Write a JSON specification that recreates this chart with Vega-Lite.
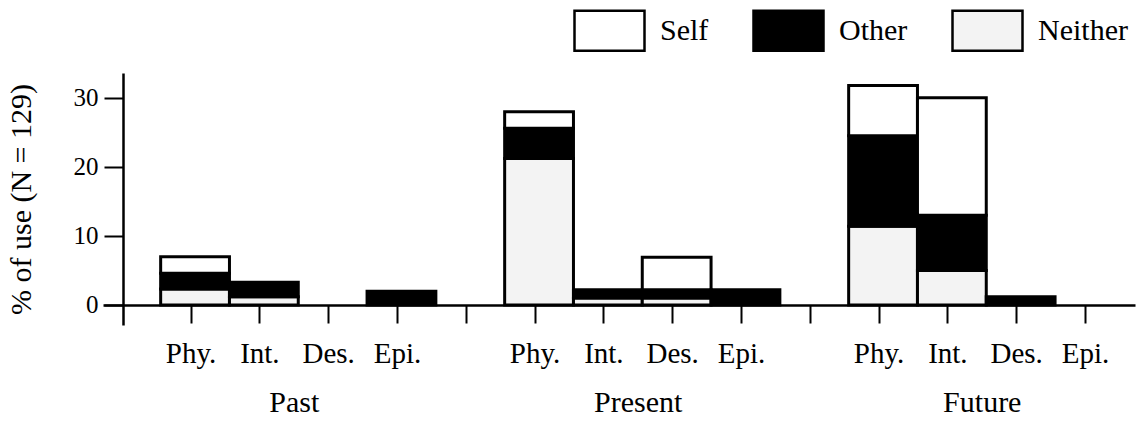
{
  "$schema": "https://vega.github.io/schema/vega-lite/v6.json",
  "autosize": {"type": "none"},
  "padding": {"left": 103, "top": 73, "right": 6, "bottom": 96},
  "width": 1032,
  "height": 252,
  "background": "white",
  "config": {
    "view": {"stroke": null},
    "font": "Liberation Serif",
    "axis": {"domainColor": "black", "tickColor": "black", "labelColor": "black", "titleColor": "black", "labelFont": "Liberation Serif", "titleFont": "Liberation Serif", "grid": false}
  },
  "layer": [
    {
      "data": {"values": [
        {"period": "Past", "cat": "Phy.", "slot": "Past|Phy.", "resp": "Neither", "pct": 2.3},
        {"period": "Past", "cat": "Phy.", "slot": "Past|Phy.", "resp": "Other", "pct": 2.3},
        {"period": "Past", "cat": "Phy.", "slot": "Past|Phy.", "resp": "Self", "pct": 2.4},
        {"period": "Past", "cat": "Int.", "slot": "Past|Int.", "resp": "Neither", "pct": 1.2},
        {"period": "Past", "cat": "Int.", "slot": "Past|Int.", "resp": "Other", "pct": 2.1},
        {"period": "Past", "cat": "Epi.", "slot": "Past|Epi.", "resp": "Other", "pct": 2.0},
        {"period": "Present", "cat": "Phy.", "slot": "Present|Phy.", "resp": "Neither", "pct": 21.2},
        {"period": "Present", "cat": "Phy.", "slot": "Present|Phy.", "resp": "Other", "pct": 4.4},
        {"period": "Present", "cat": "Phy.", "slot": "Present|Phy.", "resp": "Self", "pct": 2.4},
        {"period": "Present", "cat": "Int.", "slot": "Present|Int.", "resp": "Neither", "pct": 1.0},
        {"period": "Present", "cat": "Int.", "slot": "Present|Int.", "resp": "Other", "pct": 1.2},
        {"period": "Present", "cat": "Des.", "slot": "Present|Des.", "resp": "Neither", "pct": 1.0},
        {"period": "Present", "cat": "Des.", "slot": "Present|Des.", "resp": "Other", "pct": 1.2},
        {"period": "Present", "cat": "Des.", "slot": "Present|Des.", "resp": "Self", "pct": 4.7},
        {"period": "Present", "cat": "Epi.", "slot": "Present|Epi.", "resp": "Other", "pct": 2.2},
        {"period": "Future", "cat": "Phy.", "slot": "Future|Phy.", "resp": "Neither", "pct": 11.4},
        {"period": "Future", "cat": "Phy.", "slot": "Future|Phy.", "resp": "Other", "pct": 13.1},
        {"period": "Future", "cat": "Phy.", "slot": "Future|Phy.", "resp": "Self", "pct": 7.3},
        {"period": "Future", "cat": "Int.", "slot": "Future|Int.", "resp": "Neither", "pct": 5.0},
        {"period": "Future", "cat": "Int.", "slot": "Future|Int.", "resp": "Other", "pct": 8.0},
        {"period": "Future", "cat": "Int.", "slot": "Future|Int.", "resp": "Self", "pct": 17.0},
        {"period": "Future", "cat": "Des.", "slot": "Future|Des.", "resp": "Other", "pct": 1.2}
      ]},
      "mark": {"type": "bar", "stroke": "black", "strokeWidth": 3, "xOffset": 4},
      "encoding": {
        "x": {
          "field": "slot", "type": "nominal",
          "scale": {
            "domain": ["Past|Phy.", "Past|Int.", "Past|Des.", "Past|Epi.", "g1|", "Present|Phy.", "Present|Int.", "Present|Des.", "Present|Epi.", "g2|", "Future|Phy.", "Future|Int.", "Future|Des.", "Future|Epi."],
            "paddingInner": 0, "paddingOuter": 0.5, "align": 0.78
          },
          "axis": {
            "title": null,
            "offset": -20,
            "labelExpr": "split(datum.label, '|')[1]",
            "labelAngle": 0,
            "labelFontSize": 29,
            "labelPadding": 16,
            "tickSize": 18,
            "tickWidth": 2,
            "domainWidth": 2.5,
            "labelOverlap": false
          }
        },
        "y": {
          "field": "pct", "type": "quantitative", "stack": "zero",
          "scale": {"domain": [-2.9, 33.6], "nice": false, "zero": false},
          "axis": {
            "title": "% of use (N = 129)",
            "titleFontSize": 30,
            "titleFontWeight": "normal",
            "titlePadding": 37,
            "values": [0, 10, 20, 30],
            "offset": -20,
            "tickSize": 19,
            "tickWidth": 2,
            "domainWidth": 2.5,
            "labelFontSize": 25,
            "labelPadding": 6
          }
        },
        "color": {
          "field": "resp", "type": "nominal",
          "scale": {"domain": ["Self", "Other", "Neither"], "range": ["#ffffff", "#000000", "#f3f3f3"]},
          "legend": {
            "orient": "none",
            "legendX": 470,
            "legendY": -79,
            "direction": "horizontal",
            "title": null,
            "symbolType": "M-1,-0.5714H1V0.5714H-1Z",
            "symbolSize": 4900,
            "symbolStrokeColor": "black",
            "symbolStrokeWidth": 2.5,
            "symbolOpacity": 1,
            "labelFontSize": 30,
            "labelFont": "Liberation Serif",
            "labelColor": "black",
            "labelOffset": 14,
            "columnPadding": 39,
            "padding": 0
          }
        },
        "order": {"field": "resp", "sort": "ascending"}
      }
    },
    {
      "data": {"values": [
        {"period": "Past", "slot": "Past|Int."},
        {"period": "Present", "slot": "Present|Int."},
        {"period": "Future", "slot": "Future|Int."}
      ]},
      "mark": {"type": "text", "dy": 107, "baseline": "alphabetic", "align": "center", "fontSize": 30, "font": "Liberation Serif", "color": "black"},
      "encoding": {
        "x": {
          "field": "slot", "type": "nominal", "bandPosition": 1,
          "scale": {
            "domain": ["Past|Phy.", "Past|Int.", "Past|Des.", "Past|Epi.", "g1|", "Present|Phy.", "Present|Int.", "Present|Des.", "Present|Epi.", "g2|", "Future|Phy.", "Future|Int.", "Future|Des.", "Future|Epi."],
            "paddingInner": 0, "paddingOuter": 0.5, "align": 0.78
          },
          "axis": {
            "title": null,
            "offset": -20,
            "labelExpr": "split(datum.label, '|')[1]",
            "labelAngle": 0,
            "labelFontSize": 29,
            "labelPadding": 16,
            "tickSize": 18,
            "tickWidth": 2,
            "domainWidth": 2.5,
            "labelOverlap": false
          }
        },
        "y": {
          "datum": 0, "type": "quantitative",
          "scale": {"domain": [-2.9, 33.6], "nice": false, "zero": false},
          "axis": {
            "title": "% of use (N = 129)",
            "titleFontSize": 30,
            "titleFontWeight": "normal",
            "titlePadding": 37,
            "values": [0, 10, 20, 30],
            "offset": -20,
            "tickSize": 19,
            "tickWidth": 2,
            "domainWidth": 2.5,
            "labelFontSize": 25,
            "labelPadding": 6
          }
        },
        "text": {"field": "period"}
      }
    }
  ]
}
